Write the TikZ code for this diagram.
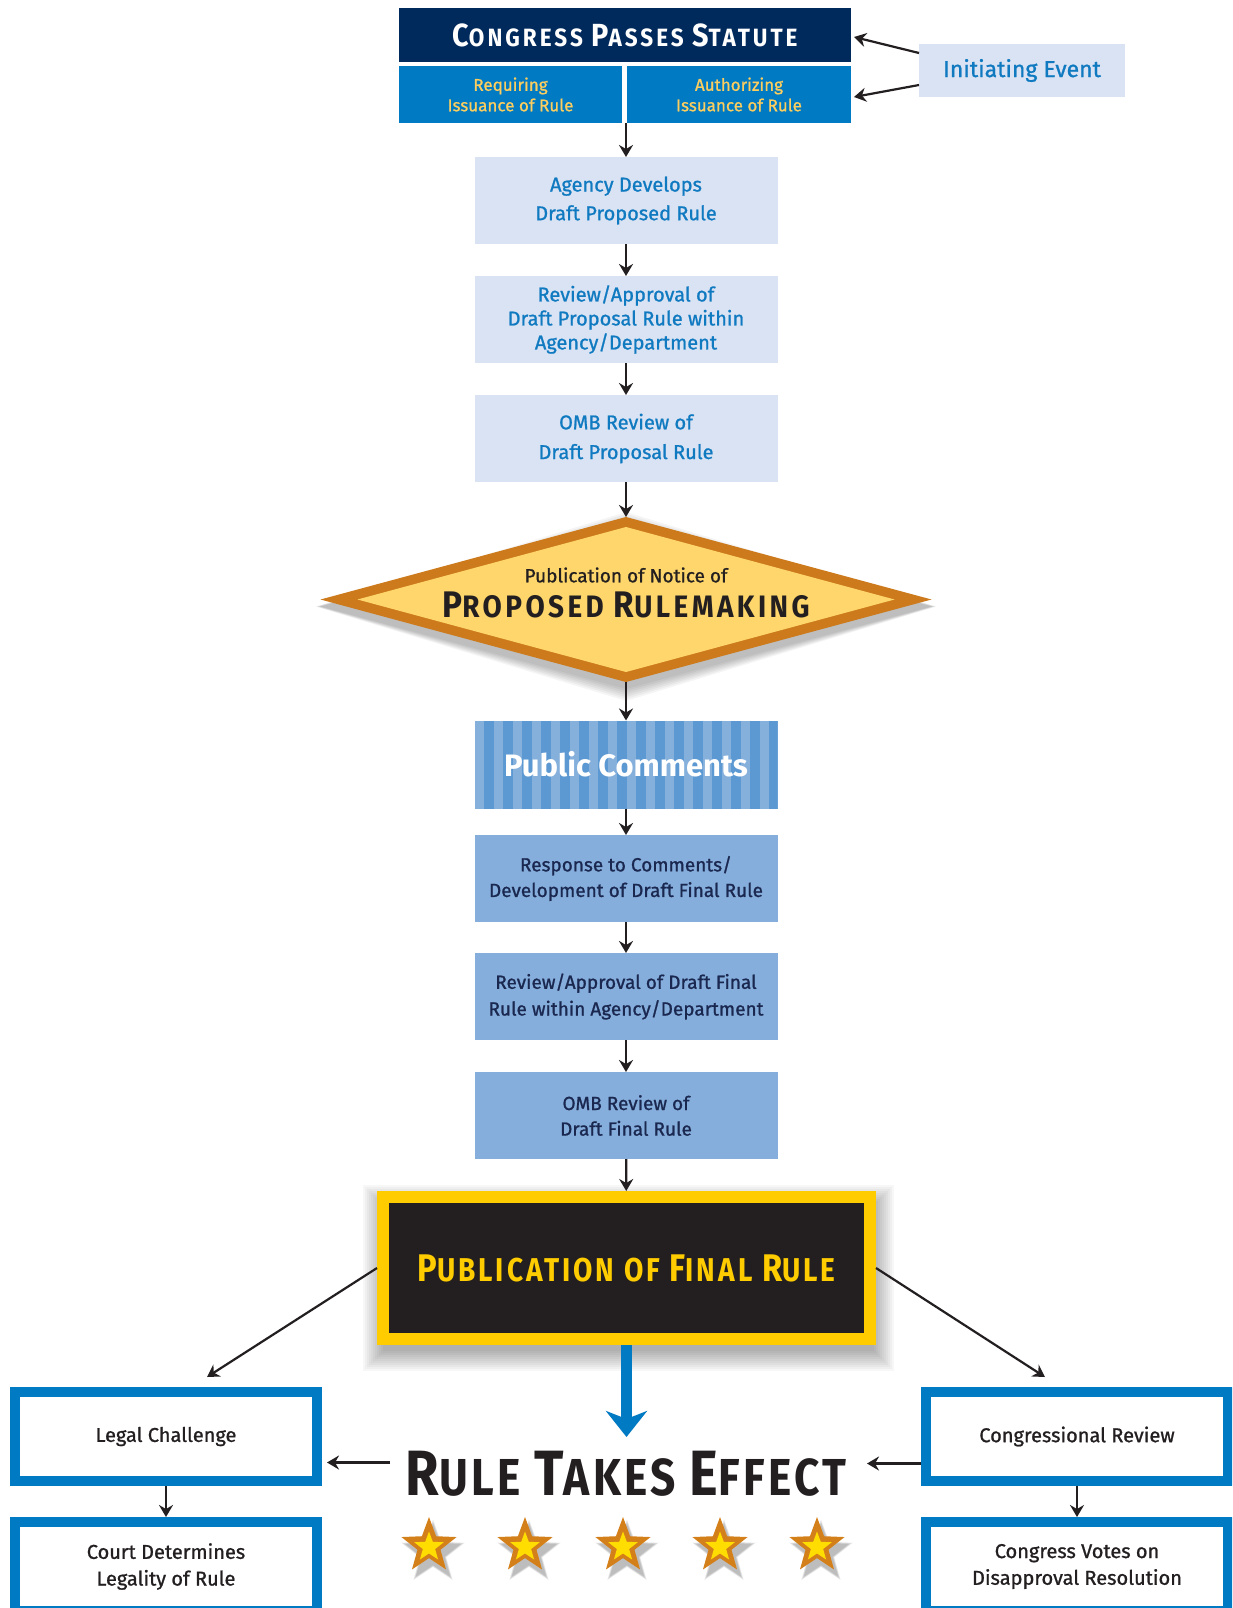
\documentclass[tikz,border=0pt]{standalone}
\usepackage{fontspec}
\setmainfont{Fira Sans}
\newfontfamily\medf{Fira Sans}[FakeBold=1.0]
\newfontfamily\ttlA{Fira Sans}[FakeStretch=0.9, LetterSpace=12]
\newfontfamily\ttlP{Fira Sans}[FakeStretch=0.9, LetterSpace=11]
\newfontfamily\ttlF{Fira Sans}[FakeStretch=0.85, LetterSpace=9]
\newfontfamily\ttlR{Fira Sans}[FakeStretch=0.85, LetterSpace=6.5]
\usepackage{graphicx}
\usetikzlibrary{arrows.meta,shapes.geometric,calc,backgrounds}
\definecolor{navy}{RGB}{0,41,92}
\definecolor{mblue}{RGB}{0,122,194}
\definecolor{yellowtxt}{RGB}{252,205,95}
\definecolor{lightbox}{RGB}{218,227,243}
\definecolor{lighttext}{RGB}{16,122,193}
\definecolor{diaO}{RGB}{204,122,27}
\definecolor{diaY}{RGB}{254,214,107}
\definecolor{pcLight}{RGB}{134,176,220}
\definecolor{pcDark}{RGB}{92,152,210}
\definecolor{boxB}{RGB}{134,174,220}
\definecolor{boxT}{RGB}{26,40,80}
\definecolor{finK}{RGB}{35,31,32}
\definecolor{finY}{RGB}{255,204,0}
\definecolor{starY}{RGB}{255,221,0}
\definecolor{starO}{RGB}{212,128,26}
\newcommand{\tsc}[4]{{\fontsize{#1pt}{#1pt}\selectfont #3}{\fontsize{#2pt}{#2pt}\selectfont #4}}
\begin{document}
\begin{tikzpicture}[x=1pt,y=-1pt,
  arr/.style={draw=finK, line width=2.2pt, -{Stealth[length=12pt,width=14pt,inset=4pt]}},
  bluearr/.style={draw=mblue, line width=11pt, -{Stealth[length=26pt,width=41pt,inset=8pt]}},
  lbox/.style={rectangle, fill=lightbox, text=lighttext, minimum width=303pt, minimum height=87pt, inner sep=0pt, outer sep=0pt, align=center},
  dbox/.style={rectangle, fill=boxB, text=boxT, minimum width=303pt, minimum height=87pt, inner sep=0pt, outer sep=0pt, align=center},
  wbox/.style={rectangle, draw=mblue, line width=10pt, fill=white, text=finK, minimum width=302pt, minimum height=89pt, inner sep=0pt, align=center},
  starout/.style={star, star points=5, star point ratio=2.4, fill=starO, minimum size=58pt, inner sep=0pt},
  starin/.style={star, star points=5, star point ratio=2.4, fill=starY, minimum size=31pt, inner sep=0pt},
  starsh/.style={star, star points=5, star point ratio=2.4, fill=black, opacity=0.07, inner sep=0pt}
]
\useasboundingbox (0,0) rectangle (1232,1608);
\clip (0,0) rectangle (1232,1608);
\begin{scope}[on background layer]
\fill[white] (0,0) rectangle (1232,1608);
\end{scope}

% --- top block
\node[fill=navy, minimum width=452pt, minimum height=54pt, inner sep=0pt, outer sep=0pt] (top) at (625,35)
  {\ttlA\bfseries\fontsize{25pt}{25pt}\selectfont\color{white}\tsc{32}{25}{C}{ONGRESS} \tsc{32}{25}{P}{ASSES} \tsc{32}{25}{S}{TATUTE}};
\node[fill=mblue, text=yellowtxt, minimum width=223pt, minimum height=57pt, inner sep=0pt, outer sep=0pt, align=center,
  font=\medf\fontsize{17pt}{20.5pt}\selectfont] (req) at (510.5,94.5) {Requiring\\Issuance of Rule};
\node[fill=mblue, text=yellowtxt, minimum width=224pt, minimum height=57pt, inner sep=0pt, outer sep=0pt, align=center,
  font=\medf\fontsize{17pt}{20.5pt}\selectfont] (auth) at (739,94.5) {Authorizing\\Issuance of Rule};
\node[fill=lightbox, text=lighttext, minimum width=206pt, minimum height=53pt, inner sep=0pt, outer sep=0pt,
  font=\medf\fontsize{23pt}{23pt}\selectfont] (init) at (1022,70.5) {Initiating Event};

% --- column
\node[lbox, font=\medf\fontsize{20pt}{28.7pt}\selectfont] (agency) at (626,200.5) {Agency Develops\\Draft Proposed Rule};
\node[lbox, font=\medf\fontsize{20pt}{24pt}\selectfont] (review1) at (626,319.5) {Review/Approval of\\Draft Proposal Rule within\\Agency/Department};
\node[lbox, font=\medf\fontsize{20pt}{29.7pt}\selectfont] (omb1) at (626,438.5) {OMB Review of\\Draft Proposal Rule};

\node[diamond, fill=diaO, minimum width=611pt, minimum height=165pt, inner sep=0pt, outer sep=0pt] (dia) at (626,599.5) {};
\node[diamond, fill=diaY, minimum width=537pt, minimum height=145pt, inner sep=0pt, outer sep=0pt] (diain) at (626,599.5) {};
\node[text=finK, font=\medf\fontsize{19pt}{19pt}\selectfont] (dtxt1) at (626,575) {Publication of Notice of};
\node[text=finK, font=\ttlP\bfseries\fontsize{31pt}{31pt}\selectfont] (dtxt2) at (626,605) {\tsc{37}{31}{P}{ROPOSED} \tsc{37}{31}{R}{ULEMAKING}};

\node[rectangle, fill=pcLight, minimum width=303pt, minimum height=88pt, inner sep=0pt, outer sep=0pt,
  text=white, font=\fontsize{31pt}{31pt}\selectfont\bfseries,
  path picture={\foreach \i in {0,...,16}{\fill[pcDark] ([xshift={\i*19pt+9.5pt}]path picture bounding box.north west) rectangle ([xshift={\i*19pt+19pt}]path picture bounding box.south west);}}]
  (pc) at (626,764.5) {Public Comments};

\node[dbox, font=\medf\fontsize{19pt}{25.6pt}\selectfont] (resp) at (626,878.5) {Response to Comments/\\Development of Draft Final Rule};
\node[dbox, font=\medf\fontsize{19pt}{26.7pt}\selectfont] (rev2) at (626,996.5) {Review/Approval of Draft Final\\Rule within Agency/Department};
\node[dbox, font=\medf\fontsize{19pt}{25.6pt}\selectfont] (omb2) at (626,1115.5) {OMB Review of\\Draft Final Rule};

\node[rectangle, draw=finY, line width=12pt, fill=finK, minimum width=487pt, minimum height=142pt, inner sep=0pt,
  text=finY, font=\ttlF\bfseries\fontsize{33pt}{33pt}\selectfont] (fin) at (626.5,1268)
  {\tsc{38.5}{33}{P}{UBLICATION OF} \tsc{38.5}{33}{F}{INAL} \tsc{38.5}{33}{R}{ULE}};

\node[minimum width=472pt, minimum height=74pt, inner sep=0pt, outer sep=0pt, text=finK,
  font=\ttlR\bfseries\fontsize{52pt}{52pt}\selectfont] (rte) at (626,1474)
  {\tsc{64}{52}{R}{ULE} \tsc{64}{52}{T}{AKES} \tsc{64}{52}{E}{FFECT}};

% --- bottom boxes
\node[wbox, font=\medf\fontsize{20pt}{20pt}\selectfont] (legal) at (166,1436.5) {Legal Challenge};
\node[wbox, font=\medf\fontsize{20pt}{26.7pt}\selectfont] (court) at (166,1566.5) {Court Determines\\Legality of Rule};
\node[wbox, font=\medf\fontsize{20pt}{20pt}\selectfont] (cong) at (1077,1436.5) {Congressional Review};
\node[wbox, font=\medf\fontsize{20pt}{26.7pt}\selectfont] (votes) at (1077,1566.5) {Congress Votes on\\Disapproval Resolution};

% --- stars
\foreach \sx in {429,525,623,720,817}{
  \foreach \e in {0,3,6,9}{
    \node[starsh, minimum size={58pt+\e pt}] (sh\sx-\e) at (\sx+4,1553) {};
  }
  \node[starout] (so\sx) at (\sx,1546) {};
  \node[starin] (si\sx) at (\sx,1547) {};
}

% --- connectors
\draw[arr] ([yshift=17.5pt]init.west) -- ([xshift=3pt,yshift=-2pt]top.east);
\draw[arr] ([yshift=-14.5pt]init.west) -- ([xshift=3pt,yshift=-2.5pt]auth.east);
\draw[arr] (agency.north |- req.south) -- (agency.north);
\draw[arr] (agency) -- (review1);
\draw[arr] (review1) -- (omb1);
\draw[arr] (omb1) -- (dia);
\draw[arr] (dia) -- (pc);
\draw[arr] (pc) -- (resp);
\draw[arr] (resp) -- (rev2);
\draw[arr] (rev2) -- (omb2);
\draw[arr] (omb2) -- (fin);
\draw[bluearr] (fin.south) -- (fin.south |- rte.north);
\draw[arr] (fin.west) -- ([xshift=41pt,yshift=10pt]legal.north);
\draw[arr] (fin.east) -- ([xshift=-32pt,yshift=10pt]cong.north);
\coordinate (lA) at ([yshift=-26pt]legal.east);
\draw[arr, shorten >=5pt] (rte.west |- lA) -- (lA);
\coordinate (rA) at ([yshift=-27pt]cong.west);
\draw[arr, shorten >=5pt] (rA) -- (rte.east |- rA);
\draw[arr] (legal) -- (court);
\draw[arr] (cong) -- (votes);

% --- soft shadows
\begin{scope}[on background layer]
\foreach \e in {-4,-2,...,16}{
  \fill[black, opacity=0.03] ([xshift={(2-\e)*1pt},yshift={(\e-10)*1pt}]fin.north west) rectangle ([xshift={(2+\e)*1pt},yshift={(-10-\e)*1pt}]fin.south east);
}
\foreach \e in {0,2,...,12}{
  \fill[black, opacity=0.04] ([xshift={-\e*0.4pt},yshift=-7pt]dia.west) -- ([yshift={(\e-7)*1pt}]dia.north) -- ([xshift={\e*0.4pt},yshift=-7pt]dia.east) -- ([yshift={(-7-\e)*1pt}]dia.south) -- cycle;
}
\end{scope}
\end{tikzpicture}
\end{document}
